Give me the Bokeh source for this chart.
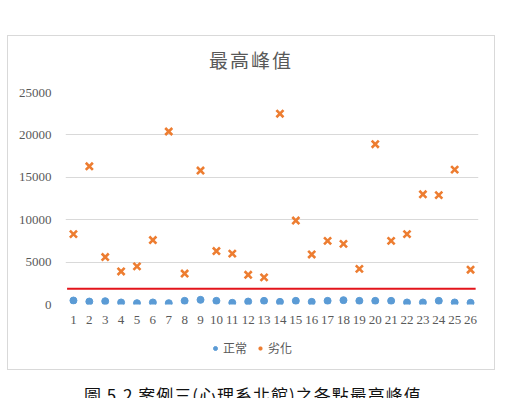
from bokeh.plotting import figure
from bokeh.models import Range1d, FixedTicker, Legend, LegendItem, Div, NumeralTickFormatter
from bokeh.layouts import column
from bokeh.embed import file_html
from bokeh.resources import INLINE

# ---- data ----
cases = list(range(1, 27))
normal = [470, 350, 390, 240, 160, 240, 160, 430, 550, 430, 200, 350, 430,
          310, 430, 310, 430, 510, 430, 430, 430, 240, 240, 430, 240, 200]
degraded = [8300, 16300, 5600, 3900, 4500, 7600, 20400, 3650, 15800, 6300, 6000, 3500, 3200,
            22500, 9900, 5900, 7500, 7150, 4200, 18900, 7500, 8300, 13000, 12900, 15900, 4100]
threshold = 1850
y_ticks = [0, 5000, 10000, 15000, 20000, 25000]
series_names = ["正常", "劣化"]
title_text = "最高峰值"
caption_text = "圖 5.2 案例三(心理系北館)之各點最高峰值"

GRAY = "#595959"
GRID = "#d9d9d9"
BLUE = "#5b9bd5"
ORANGE = "#ed7d31"

title = Div(text='<div style="margin-top:15px;text-align:center;width:488px;line-height:19px;'
                 'font-family:\'Noto Sans CJK TC\';font-size:19px;color:#595959;letter-spacing:2px">'
                 + title_text + '</div>',
            width=488, height=49, margin=0)

p = figure(width=488, height=251, x_range=Range1d(0.5, 26.5), y_range=Range1d(0, 25000),
           output_backend="svg", toolbar_location=None,
           min_border_left=58, min_border_right=17, min_border_top=8, min_border_bottom=31)
p.outline_line_color = None
p.background_fill_color = None
p.border_fill_color = None

p.xgrid.visible = False
p.ygrid.ticker = FixedTicker(ticks=y_ticks)
p.ygrid.grid_line_color = GRID
p.ygrid.grid_line_width = 1

p.xaxis.ticker = FixedTicker(ticks=cases)
p.yaxis.ticker = FixedTicker(ticks=y_ticks)
p.yaxis.formatter = NumeralTickFormatter(format="0")
for ax in (p.xaxis, p.yaxis):
    ax.axis_line_color = None
    ax.major_tick_line_color = None
    ax.minor_tick_line_color = None
    ax.major_label_text_font = "Liberation Serif"
    ax.major_label_text_font_size = "13px"
    ax.major_label_text_color = GRAY
p.xaxis.major_label_standoff = 5
p.yaxis.major_label_standoff = 8

r_th = p.segment(x0=[0.6], y0=[threshold], x1=[26.32], y1=[threshold],
                 line_color="#e3141b", line_width=2)
r1 = p.scatter(cases, normal, marker="circle", size=7, fill_color=BLUE, line_color=BLUE)
r2 = p.scatter(cases, degraded, marker="x", size=10, line_width=2.6, line_color=ORANGE)

# legend strip (second canvas inside the same chart box); its range hides the data
q = figure(width=488, height=35, x_range=Range1d(0.5, 26.5), y_range=Range1d(-2, -1),
           output_backend="svg", toolbar_location=None, x_axis_type=None, y_axis_type=None,
           min_border=0)
q.outline_line_color = None
q.background_fill_color = None
q.border_fill_color = None
q.grid.visible = False
l1 = q.scatter(cases, normal, marker="circle", size=7, fill_color=BLUE, line_color=BLUE)
l2 = q.scatter(cases, degraded, marker="x", size=10, line_width=2.6, line_color=ORANGE)

legend = Legend(items=[LegendItem(label=series_names[0], renderers=[l1]),
                       LegendItem(label=series_names[1], renderers=[l2])],
                orientation="horizontal", location=(145, 14))
legend.label_text_font = "Noto Sans CJK TC"
legend.label_text_font_size = "12px"
legend.label_text_color = GRAY
legend.border_line_color = None
legend.background_fill_alpha = 0
legend.glyph_width = 10
legend.glyph_height = 10
legend.label_standoff = 3
legend.spacing = 8
legend.padding = 2
legend.margin = 0
q.add_layout(legend, "center")

box = column(title, p, q, spacing=0)
box.margin = (35, 0, 0, 7)
box.styles = {"box-shadow": "inset 0 0 0 1px #d9d9d9"}

caption = Div(text='<div style="margin-top:13px;margin-left:84px;white-space:nowrap;'
                   'font-family:\'Noto Sans CJK TC\';font-size:17px;color:#111;letter-spacing:1px">'
                   + caption_text + '</div>',
              width=516, height=28, margin=0, styles={"overflow": "hidden"})

layout = column(box, caption, spacing=0)
open("out.html", "w").write(file_html(layout, INLINE))
